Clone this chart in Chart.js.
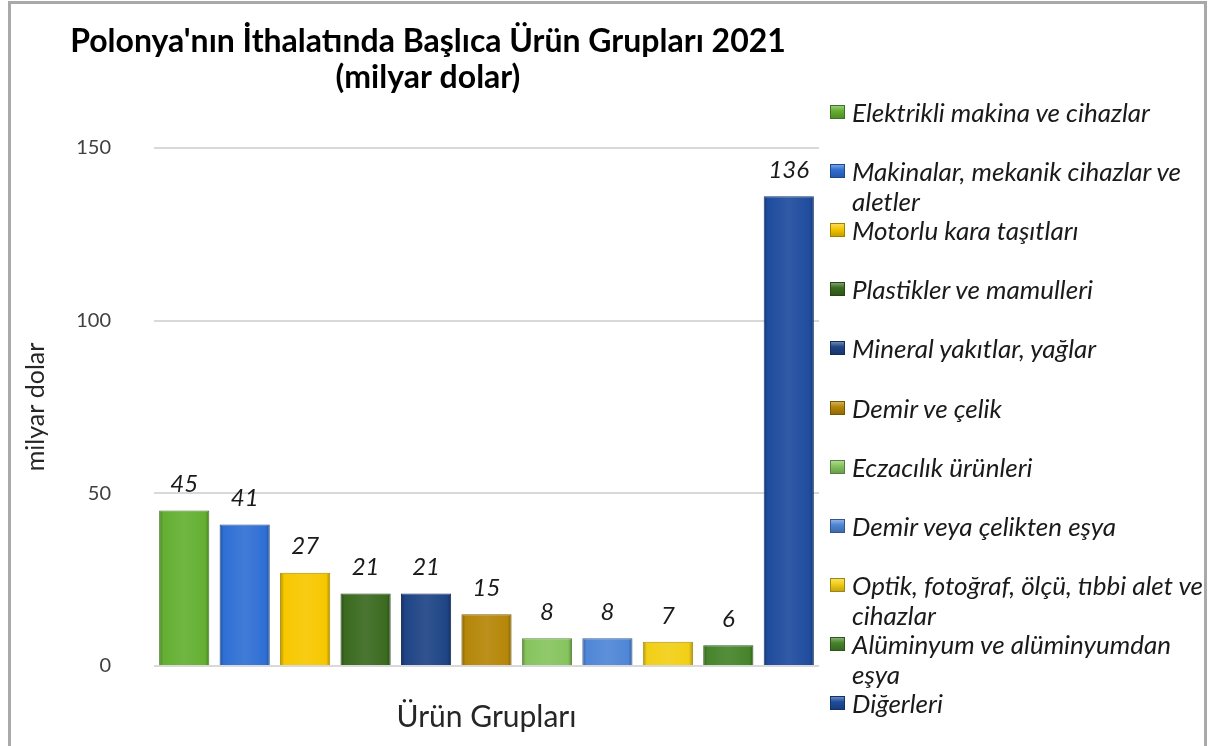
<!DOCTYPE html>
<html>
<head>
<meta charset="utf-8">
<script src="https://cdn.jsdelivr.net/npm/chart.js@4.4.1/dist/chart.umd.min.js"></script>
<style>
  html, body { margin: 0; padding: 0; background: #ffffff; }
  body { width: 1210px; height: 746px; position: relative; overflow: hidden; font-family: Lato, "Open Sans", sans-serif; }
  #frame { position: absolute; left: 8px; top: 1px; width: 1199px; height: 800px; box-sizing: border-box; border: 3px solid #a9a9a9; }
  #wrap { position: absolute; left: 0; top: 0; width: 835px; height: 746px; }
  #legend { position: absolute; left: 0; top: 0; width: 1210px; height: 746px; pointer-events: none; }
  .item { position: absolute; left: 830px; display: flex; align-items: flex-start; }
  .box { width: 15px; height: 14px; margin-top: 8px; margin-right: 7px; box-sizing: border-box; flex: none; }
  .txt { width: 356px; font: italic 26px Lato, "Open Sans", sans-serif; line-height: 30px; color: #1a1a1a; }
</style>
</head>
<body>
<div id="frame"></div>
<div id="wrap"><canvas id="c" width="835" height="746"></canvas></div>
<div id="legend"></div>
<script>
// ---- data ----
const categories = [
  "Elektrikli makina ve cihazlar",
  "Makinalar, mekanik cihazlar ve aletler",
  "Motorlu kara taşıtları",
  "Plastikler ve mamulleri",
  "Mineral yakıtlar, yağlar",
  "Demir ve çelik",
  "Eczacılık ürünleri",
  "Demir veya çelikten eşya",
  "Optik, fotoğraf, ölçü, tıbbi alet ve cihazlar",
  "Alüminyum ve alüminyumdan eşya",
  "Diğerleri"
];
const values = [45, 41, 27, 21, 21, 15, 8, 8, 7, 6, 136];
const yTicks = [0, 50, 100, 150];
const titleLines = ["Polonya'nın İthalatında Başlıca Ürün Grupları 2021", "(milyar dolar)"];
const yTitle = "milyar dolar";
const xTitle = "Ürün Grupları";

// ---- styles ----
const barColors = ["#64b032", "#2f6fd4", "#f7c800", "#3a6a1f", "#1f4586", "#b58608",
                   "#86c45e", "#4f86d6", "#f2cf16", "#46842a", "#1f4c9e"];
const FONT = "Lato, 'Open Sans', sans-serif";

function shade(hex, amt) {
  const n = parseInt(hex.slice(1), 16);
  let r = (n >> 16) & 255, g = (n >> 8) & 255, b = n & 255;
  const f = (v) => Math.max(0, Math.min(255, Math.round(amt >= 0 ? v + (255 - v) * amt : v * (1 + amt))));
  return "rgb(" + f(r) + "," + f(g) + "," + f(b) + ")";
}

// HTML legend built from categories
const legend = document.getElementById("legend");
categories.forEach((name, i) => {
  const it = document.createElement("div");
  it.className = "item";
  it.style.top = (97 + i * 59.1) + "px";
  const bx = document.createElement("span");
  bx.className = "box";
  bx.style.background = "linear-gradient(180deg," + shade(barColors[i], 0.35) + " 0%," + barColors[i] + " 40%," + shade(barColors[i], -0.2) + " 100%)";
  bx.style.border = "1px solid " + shade(barColors[i], -0.35);
  const tx = document.createElement("span");
  tx.className = "txt";
  tx.textContent = name;
  it.appendChild(bx); it.appendChild(tx);
  legend.appendChild(it);
});

const BAR_PCT = 0.83;
function barFill(c) {
  const chart = c.chart;
  const base = barColors[c.dataIndex];
  const sx = chart.scales && chart.scales.x;
  if (!chart.chartArea || !sx) return base;
  const cx = sx.getPixelForValue(c.dataIndex);
  const w = sx.width / categories.length * BAR_PCT;
  const g = chart.ctx.createLinearGradient(cx - w / 2, 0, cx + w / 2, 0);
  g.addColorStop(0, shade(base, -0.3));
  g.addColorStop(0.08, base);
  g.addColorStop(0.5, shade(base, 0.08));
  g.addColorStop(0.92, base);
  g.addColorStop(1, shade(base, -0.3));
  return g;
}

const valueLabels = {
  id: "valueLabels",
  afterDatasetsDraw(chart) {
    const ctx = chart.ctx;
    const meta = chart.getDatasetMeta(0);
    ctx.save();
    ctx.font = "italic 24px " + FONT;
    ctx.fillStyle = "#1a1a1a";
    ctx.textAlign = "center";
    ctx.textBaseline = "middle";
    meta.data.forEach((bar, i) => {
      ctx.fillText(String(values[i]), bar.x, bar.y - 26);
    });
    ctx.restore();
  }
};

new Chart(document.getElementById("c"), {
  type: "bar",
  data: {
    labels: categories,
    datasets: [{
      data: values,
      backgroundColor: barFill,
      borderColor: barColors.map(c => shade(c, -0.3)),
      borderWidth: 1,
      barPercentage: BAR_PCT,
      categoryPercentage: 1
    }]
  },
  options: {
    responsive: false,
    animation: false,
    devicePixelRatio: 1,
    layout: { padding: { left: 37, right: 16, top: 0, bottom: 0 } },
    plugins: {
      legend: { display: false },
      tooltip: { enabled: false },
      title: {
        display: true,
        text: titleLines,
        color: "#000000",
        font: { family: FONT, size: 32, weight: "bold", lineHeight: "36px" },
        padding: { top: 24, bottom: 52 }
      }
    },
    scales: {
      x: {
        offset: true,
        grid: { display: false },
        border: { display: false },
        ticks: { display: false },
        title: {
          display: true,
          text: xTitle,
          color: "#262626",
          font: { family: FONT, size: 30, lineHeight: 1.2 },
          padding: { top: 10, bottom: 11 }
        },
        afterFit(s) { s.height = 80; }
      },
      y: {
        min: 0,
        max: 150,
        afterBuildTicks(s) { s.ticks = yTicks.map(v => ({ value: v })); },
        grid: { color: "#d9d9d9", lineWidth: 2, drawTicks: false },
        border: { display: false },
        ticks: { color: "#404040", font: { family: FONT, size: 20 }, padding: 43 },
        title: {
          display: true,
          text: yTitle,
          color: "#262626",
          font: { family: FONT, size: 25, lineHeight: 1.2 },
          padding: { top: -16, bottom: 0 }
        },
        afterFit(s) { s.width = 117; }
      }
    }
  },
  plugins: [valueLabels]
});
</script>
</body>
</html>
